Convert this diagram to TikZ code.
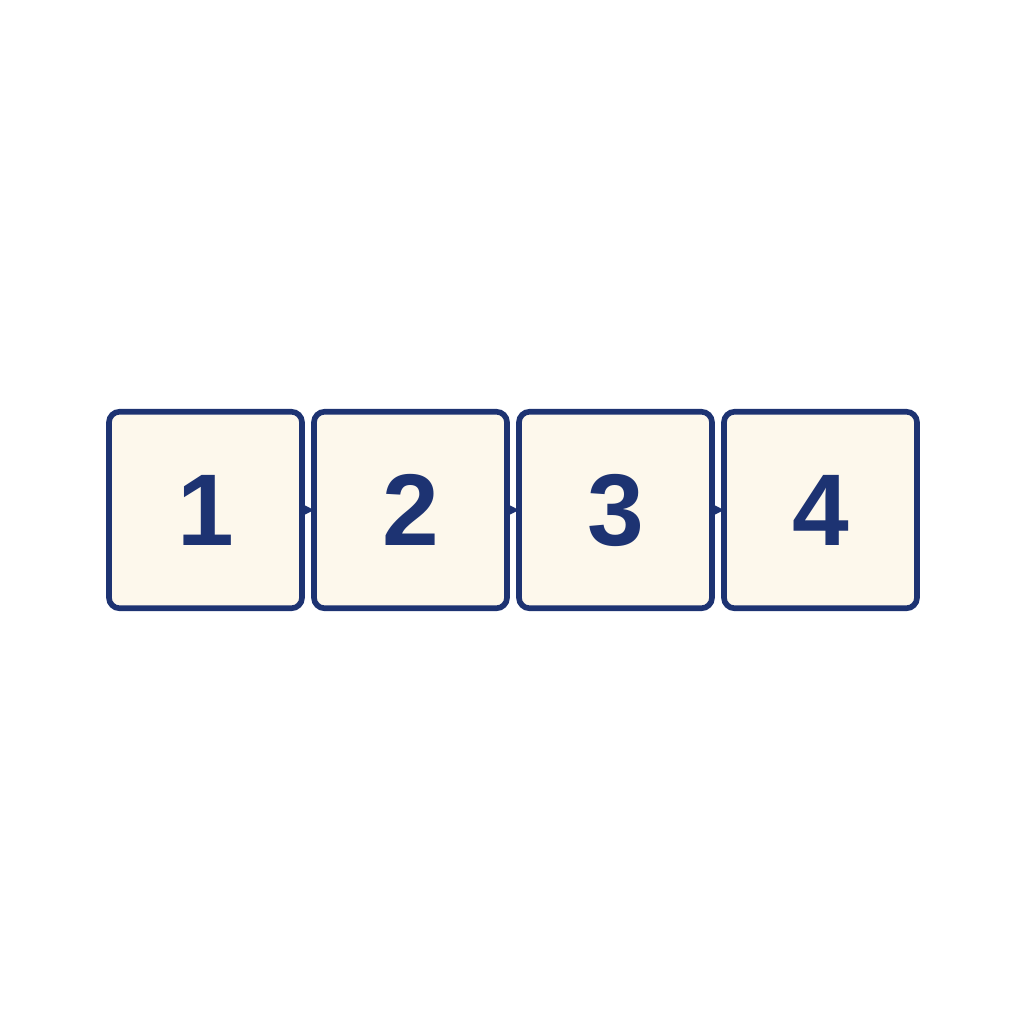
\documentclass[tikz,border=0pt]{standalone}
\usepackage{fontspec}
\setmainfont{Liberation Sans}
\usepackage{tikz}
\usetikzlibrary{positioning,arrows.meta}
\definecolor{boxblue}{HTML}{1D3372}
\definecolor{boxcream}{HTML}{FDF8EC}

\begin{document}
\begin{tikzpicture}
        [>= {Stealth[length=4pt,width=4pt]},
         cell/.style = {draw = boxblue, fill = boxcream, line width = 1.6pt,
           rounded corners = 3pt, minimum width = 1.93cm, minimum height = 1.965cm,
           outer sep = 0pt, text = boxblue, font = \bfseries\fontsize{29}{30}\selectfont}]
        \useasboundingbox (0,0) rectangle (10.24,-10.24);
        \node[cell] (c1) at (2.055,-5.10) {1};
        \node[cell, right = 0.12cm of c1] (c2) {2};
        \node[cell, right = 0.12cm of c2] (c3) {3};
        \node[cell, right = 0.12cm of c3] (c4) {4};
        \draw[->, boxblue, line width = 0.8pt] (c1) -- (c2);
        \draw[->, boxblue, line width = 0.8pt] (c2) -- (c3);
        \draw[->, boxblue, line width = 0.8pt] (c3) -- (c4);
      \end{tikzpicture}
\end{document}
